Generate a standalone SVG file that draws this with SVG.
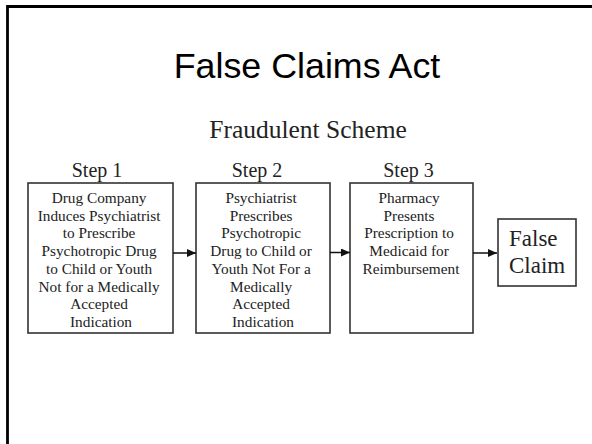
<svg xmlns="http://www.w3.org/2000/svg" width="592" height="444" viewBox="0 0 592 444">
<style>
.box{fill:#fff;stroke:#333;stroke-width:1.6}
.t{font-family:"Liberation Serif","Times New Roman",serif;fill:#222;text-anchor:middle}
.bt{font-size:15.3px}
.step{font-size:20px}
.conn{stroke:#111;stroke-width:1.5;fill:none}
</style>
<defs>
<marker id="ah" viewBox="0 0 9 8" refX="9" refY="4" markerWidth="9" markerHeight="8" markerUnits="userSpaceOnUse" orient="auto">
<path d="M0,0 L9,4 L0,8 Z" fill="#111"/>
</marker>
</defs>
<rect width="592" height="444" fill="#fff"/>
<path d="M7.5,444 V6.5 H592" fill="none" stroke="#000" stroke-width="2.8"/>
<text x="307" y="78" font-family="'Liberation Sans',Arial,sans-serif" font-size="35.8" text-anchor="middle" fill="#000">False Claims Act</text>
<text class="t" x="308" y="138" font-size="25.5">Fraudulent Scheme</text>
<g id="step1">
<text class="t step" x="97" y="177">Step 1</text>
<rect class="box" x="28" y="183" width="145" height="150"/>
<text class="t bt" x="101">
<tspan x="101" y="203">Drug Company</tspan>
<tspan x="101" y="220.7">Induces Psychiatrist</tspan>
<tspan x="101" y="238.4">to Prescribe</tspan>
<tspan x="101" y="256.1">Psychotropic Drug</tspan>
<tspan x="101" y="273.8">to Child or Youth</tspan>
<tspan x="101" y="291.5">Not for a Medically</tspan>
<tspan x="101" y="309.2">Accepted</tspan>
<tspan x="101" y="326.9">Indication</tspan>
</text>
</g>
<g id="step2">
<text class="t step" x="257" y="177">Step 2</text>
<rect class="box" x="196" y="183" width="134" height="150"/>
<text class="t bt" x="263">
<tspan x="263" y="203">Psychiatrist</tspan>
<tspan x="263" y="220.7">Prescribes</tspan>
<tspan x="263" y="238.4">Psychotropic</tspan>
<tspan x="263" y="256.1">Drug to Child or</tspan>
<tspan x="263" y="273.8">Youth Not For a</tspan>
<tspan x="263" y="291.5">Medically</tspan>
<tspan x="263" y="309.2">Accepted</tspan>
<tspan x="263" y="326.9">Indication</tspan>
</text>
</g>
<g id="step3">
<text class="t step" x="408.5" y="177">Step 3</text>
<rect class="box" x="350" y="183" width="123" height="150"/>
<text class="t bt" x="411">
<tspan x="411" y="203">Pharmacy</tspan>
<tspan x="411" y="220.7">Presents</tspan>
<tspan x="411" y="238.4">Prescription to</tspan>
<tspan x="411" y="256.1">Medicaid for</tspan>
<tspan x="411" y="273.8">Reimbursement</tspan>
</text>
</g>
<g id="falseclaim">
<rect class="box" x="498" y="219" width="78" height="67"/>
<text class="t" x="509" font-size="23" style="text-anchor:start">
<tspan x="509" y="246">False</tspan>
<tspan x="509" y="273">Claim</tspan>
</text>
</g>
<g id="connectors">
<line class="conn" x1="173" y1="253" x2="196" y2="253" marker-end="url(#ah)"/>
<line class="conn" x1="330" y1="252.5" x2="350" y2="252.5" marker-end="url(#ah)"/>
<line class="conn" x1="473" y1="253" x2="497" y2="253" marker-end="url(#ah)"/>
</g>
</svg>
